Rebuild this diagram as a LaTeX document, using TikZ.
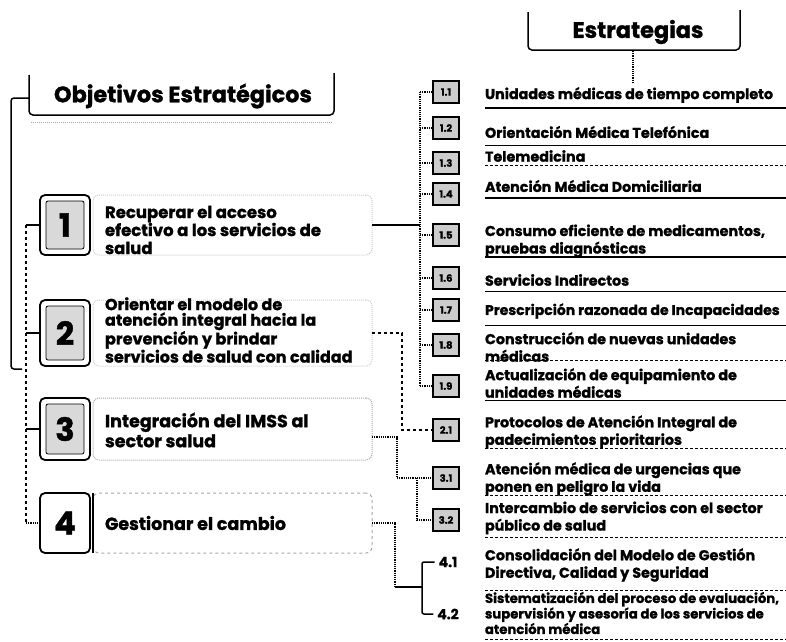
\documentclass[tikz,border=0pt]{standalone}
\usepackage{fontspec}
\setmainfont{Poppins}[BoldFeatures={FakeBold=1.2}]
\usetikzlibrary{calc}
\begin{document}
\begin{tikzpicture}[x=1pt,y=-1pt,
  every node/.style={inner sep=0pt,outer sep=0pt},
  hdr/.style={font=\fontsize{22.4}{24}\selectfont\bfseries},
  objtxt/.style={anchor=west,align=left,font=\fontsize{16.5}{18}\selectfont\bfseries},
  strtxt/.style={anchor=west,align=left,font=\fontsize{14.3}{17.5}\selectfont\bfseries},
  badge/.style={draw,line width=1.6pt,fill=gray!40,minimum width=26pt,minimum height=22pt,font=\fontsize{10}{11}\selectfont\bfseries},
  numbox/.style={draw,rounded corners=5pt,line width=1.8pt,fill=white,minimum width=50pt},
  numin/.style={draw,line width=0.8pt,fill=gray!30,rounded corners=2pt},
  numtxt/.style={font=\fontsize{32}{32}\selectfont\bfseries},
  frame/.style={draw=gray!70,densely dotted,line width=1pt,rounded corners=6pt,minimum width=279pt,anchor=west},
  solidline/.style={line width=1.5pt,rounded corners=3pt},
  dotline/.style={line width=1.2pt,densely dotted},
  dashline/.style={line width=1.2pt,dashed},
  uline/.style={line width=1pt},
  lbl/.style={font=\fontsize{14}{15}\selectfont\bfseries}
]
\useasboundingbox (0,0) rectangle (786,641);

% ---------- headers ----------
\node[hdr] (ho) at (183,96) {Objetivos Estratégicos};
\draw[line width=1.5pt,rounded corners=4pt] (29,75) -- (29,115) -- (334,115) -- (334,73);
\draw[gray!70,densely dotted,line width=1pt] (31,122) -- (333,122);
\node[hdr] (he) at (638,32) {Estrategias};
\draw[line width=1.5pt,rounded corners=4pt] (528,12) -- (528,50) -- (740,50) -- (740,10);
\coordinate (hoL) at (29,98);
\coordinate (heB) at (633,51);

% ---------- objectives ----------
\node[numbox,minimum height=60pt] (n1) at (65,225) {};
\draw[numin] ($(n1.north west)+(6,6)$) rectangle ($(n1.south east)+(-6,-6)$);
\node[numtxt] at (n1) {1};
\node[frame,draw=gray!40,minimum height=60pt] (f1) at (93,225) {};
\node[objtxt] (o1) at (105,230) {Recuperar el acceso\\efectivo a los servicios de\\salud};

\node[numbox,minimum height=66pt] (n2) at (65,333) {};
\draw[numin] ($(n2.north west)+(6,6)$) rectangle ($(n2.south east)+(-6,-6)$);
\node[numtxt] at (n2) {2};
\node[frame,draw=gray!40,minimum height=66pt] (f2) at (93,333) {};
\node[objtxt,font=\fontsize{16}{15.6}\selectfont\bfseries] (o2) at (105,330) {Orientar el modelo de\\atención integral hacia la\\prevención y brindar\\servicios de salud con calidad};

\node[numbox,minimum height=62pt] (n3) at (65,429) {};
\draw[numin] ($(n3.north west)+(6,6)$) rectangle ($(n3.south east)+(-6,-6)$);
\node[numtxt] at (n3) {3};
\node[frame,minimum height=62pt] (f3) at (93,429) {};
\node[objtxt,font=\fontsize{17.5}{20}\selectfont\bfseries] (o3) at (105,430) {Integración del IMSS al\\sector salud};

\node[numbox,minimum height=60pt] (n4) at (65,523) {};
\node[numtxt] at (n4) {4};
\node[frame,dashed,minimum height=60pt] (f4) at (93,523) {};
\draw[line width=1.5pt] (f4.north west) -- (f4.south west);
\node[objtxt,font=\fontsize{17.5}{20}\selectfont\bfseries] (o4) at (105,523) {Gestionar el cambio};

% ---------- left brackets ----------
\coordinate (L) at (26,0);
\coordinate (LL) at (11,0);
\draw[solidline] (hoL) -- (hoL -| LL) -- (11,369) -- (22,369);
\draw[dashline] (n1.west -| L) -- (n4.west -| L);
\draw[line width=1.3pt] (n1.west -| L) -- (n1.west);
\draw[line width=1.3pt] (n2.west -| L) -- (n2.west);
\draw[line width=1.3pt] (n3.west -| L) -- (n3.west);
\draw[dotline] (n4.west -| L) -- (n4.west);

% ---------- strategies ----------
\node[badge] (b11) at (446,92) {1.1};
\node[strtxt] (s11) at (485,95) {Unidades médicas de tiempo completo};
\draw[uline,line width=1.3pt] (485,108) -- (786,108);

\node[badge] (b12) at (446,128) {1.2};
\node[strtxt] (s12) at (485,132) {Orientación Médica Telefónica};
\draw[uline] (485,145) -- (786,145);

\node[badge] (b13) at (446,163) {1.3};
\node[strtxt] (s13) at (485,156) {Telemedicina};
\draw[uline,densely dashed] (485,165) -- (786,165);

\node[badge] (b14) at (446,194) {1.4};
\node[strtxt] (s14) at (485,186) {Atención Médica Domiciliaria};
\draw[uline,line width=1.3pt] (485,198) -- (786,198);

\node[badge] (b15) at (446,235) {1.5};
\node[strtxt] (s15) at (485,241) {Consumo eficiente de medicamentos,\\pruebas diagnósticas};
\draw[uline,line width=1.4pt] (485,257) -- (786,257);

\node[badge] (b16) at (446,278) {1.6};
\node[strtxt] (s16) at (485,280) {Servicios Indirectos};
\draw[uline] (485,291) -- (786,291);

\node[badge] (b17) at (446,310) {1.7};
\node[strtxt,font=\fontsize{14}{17.5}\selectfont\bfseries] (s17) at (485,311) {Prescripción razonada de Incapacidades};
\draw[uline] (485,325) -- (786,325);

\node[badge] (b18) at (446,345) {1.8};
\node[strtxt] (s18) at (485,347) {Construcción de nuevas unidades\\médicas};
\draw[uline,densely dashed] (485,360) -- (786,360);

\node[badge] (b19) at (446,386) {1.9};
\node[strtxt] (s19) at (485,383) {Actualización de equipamiento de\\unidades médicas};
\draw[uline] (485,400) -- (786,400);

\node[badge] (b21) at (446,430) {2.1};
\node[strtxt] (s21) at (485,432) {Protocolos de Atención Integral de\\padecimientos prioritarios};
\draw[uline,densely dashed] (485,448) -- (786,448);

\node[badge] (b31) at (446,478) {3.1};
\node[strtxt] (s31) at (485,479) {Atención médica de urgencias que\\ponen en peligro la vida};
\draw[uline,densely dashed] (485,495) -- (786,495);

\node[badge] (b32) at (446,520) {3.2};
\node[strtxt] (s32) at (485,518) {Intercambio de servicios con el sector\\público de salud};
\draw[uline,densely dashed] (485,537) -- (786,537);

\node[lbl] (l41) at (448,562) {4.1};
\node[strtxt] (s41) at (485,565) {Consolidación del Modelo de Gestión\\Directiva, Calidad y Seguridad};
\draw[uline,densely dashed] (485,590) -- (786,590);

\node[lbl] (l42) at (448,614) {4.2};
\node[strtxt,font=\fontsize{13.2}{14.3}\selectfont\bfseries] (s42) at (485,613) {Sistematización del proceso de evaluación,\\supervisión y asesoría de los servicios de\\atención médica};
\draw[uline,densely dashed] (485,639) -- (786,639);

% ---------- connectors ----------
\draw[dotline] (heB) -- (heB |- 0,82);

% objective 1 -> 1.1..1.9
\coordinate (V1) at (420,0);
\draw[line width=1.5pt] (f1.east) -- (f1.east -| V1);
\draw[dotline] (b11.west -| V1) -- (b19.west -| V1);
\foreach \b in {b11,b12,b13,b14,b15,b16,b17,b18,b19}
  \draw[dotline] (\b.west -| V1) -- (\b.west);

% objective 2 -> 2.1
\draw[dashline] (f2.east) -- ++(30,0) |- (b21.west);

% objective 3 -> 3.1, 3.2
\coordinate (V3) at (417,0);
\draw[dotline] ([yshift=-8pt]f3.east) -- ++(25,0) |- (b31.west);
\draw[dotline] (b31.west -| V3) |- (b32.west);

% objective 4 -> 4.1, 4.2
\coordinate (J4) at (395,587);
\coordinate (V4) at (422,587);
\draw[dotline] (f4.east) -| (J4);
\draw[line width=1.5pt] (J4) -- (V4);
\draw[line width=1.5pt,rounded corners=2pt] ([xshift=-4pt]l41.west) -| (V4) |- ([xshift=-4pt]l42.west);
\end{tikzpicture}
\end{document}
